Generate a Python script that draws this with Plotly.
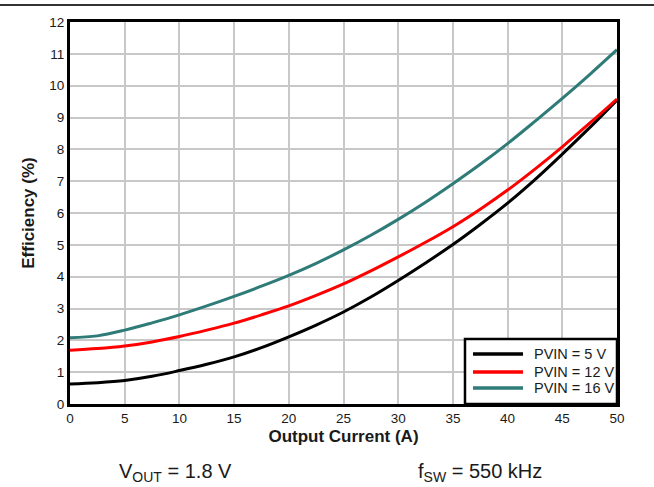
import plotly.graph_objects as go

current = [0, 2.5, 5, 7.5, 10, 12.5, 15, 17.5, 20, 22.5, 25, 27.5, 30, 32.5, 35, 37.5, 40, 42.5, 45, 47.5, 50]
eff_5v = [0.63, 0.67, 0.74, 0.87, 1.05, 1.25, 1.48, 1.77, 2.11, 2.48, 2.89, 3.36, 3.88, 4.43, 5.01, 5.64, 6.31, 7.05, 7.85, 8.68, 9.55]
eff_12v = [1.69, 1.74, 1.82, 1.95, 2.12, 2.32, 2.54, 2.8, 3.08, 3.41, 3.77, 4.18, 4.62, 5.08, 5.57, 6.12, 6.72, 7.38, 8.08, 8.82, 9.58]
eff_16v = [2.08, 2.14, 2.32, 2.55, 2.8, 3.08, 3.38, 3.7, 4.04, 4.42, 4.84, 5.3, 5.8, 6.34, 6.92, 7.53, 8.18, 8.88, 9.6, 10.35, 11.13]
series_names = ["PVIN = 5 V", "PVIN = 12 V", "PVIN = 16 V"]
series_colors = ["#000000", "#ff0000", "#2e7b78"]
x_ticks = list(range(0, 51, 5))
y_ticks = list(range(0, 13))

font_family = "Liberation Sans, Arial, sans-serif"
text_color = "#1a1a1a"

fig = go.Figure()
for name, vals, col in zip(series_names, [eff_5v, eff_12v, eff_16v], series_colors):
    fig.add_trace(go.Scatter(x=current, y=vals, name=name, mode="lines", showlegend=False,
                             line=dict(color=col, width=3, shape="spline", smoothing=1.0)))

axis_common = dict(showgrid=True, gridcolor="#c8c8c8", gridwidth=1.5, zeroline=False,
                   showline=True, linecolor="black", linewidth=3, mirror=True,
                   ticks="", automargin=False,
                   tickfont=dict(size=13.5, color=text_color, family=font_family))

fig.update_layout(
    width=654, height=487,
    margin=dict(l=70, r=37, t=22, b=83),
    paper_bgcolor="white", plot_bgcolor="white",
    font=dict(family=font_family, color=text_color),
    xaxis=dict(range=[0, 50], tickvals=x_ticks,
               title=dict(text="<b>Output Current (A)</b>", font=dict(size=17, color=text_color), standoff=5),
               **axis_common),
    yaxis=dict(range=[0, 12], tickvals=y_ticks,
               title=dict(text="<b>Efficiency (%)</b>", font=dict(size=17, color=text_color), standoff=11),
               **axis_common),
    showlegend=False,
)

# custom legend box (paper coordinates relative to plot area)
fig.add_shape(type="rect", xref="paper", yref="paper", x0=0.7221, x1=1.0, y0=0.0, y1=0.170,
              fillcolor="white", line=dict(color="black", width=2.5), layer="above")
row_y = [0.1309, 0.0838, 0.0419]
for name, col, yy in zip(series_names, series_colors, row_y):
    fig.add_shape(type="line", xref="paper", yref="paper", x0=0.7367, x1=0.8282, y0=yy, y1=yy,
                  line=dict(color=col, width=3.5), layer="above")
    fig.add_annotation(text=name, xref="paper", yref="paper", x=0.8446, y=yy,
                       xanchor="left", yanchor="middle", showarrow=False,
                       font=dict(size=14.5, color=text_color, family=font_family))

fig.add_shape(type="line", xref="paper", yref="paper", x0=-0.13, x1=1.07,
              y0=1.0445, y1=1.0445, line=dict(color="#333", width=2))

fig.add_annotation(text="V<sub>OUT</sub> = 1.8 V", xref="paper", yref="paper",
                   x=(175.5 - 70) / 547, y=(404 - 472) / 382, xanchor="center", yanchor="middle",
                   showarrow=False, font=dict(size=20, color=text_color, family=font_family))
fig.add_annotation(text="f<sub>SW</sub> = 550 kHz", xref="paper", yref="paper",
                   x=(480 - 70) / 547, y=(404 - 472) / 382, xanchor="center", yanchor="middle",
                   showarrow=False, font=dict(size=20, color=text_color, family=font_family))

fig.write_html("out.html", config={"displayModeBar": False},
               post_script="document.body.style.margin='0';")
